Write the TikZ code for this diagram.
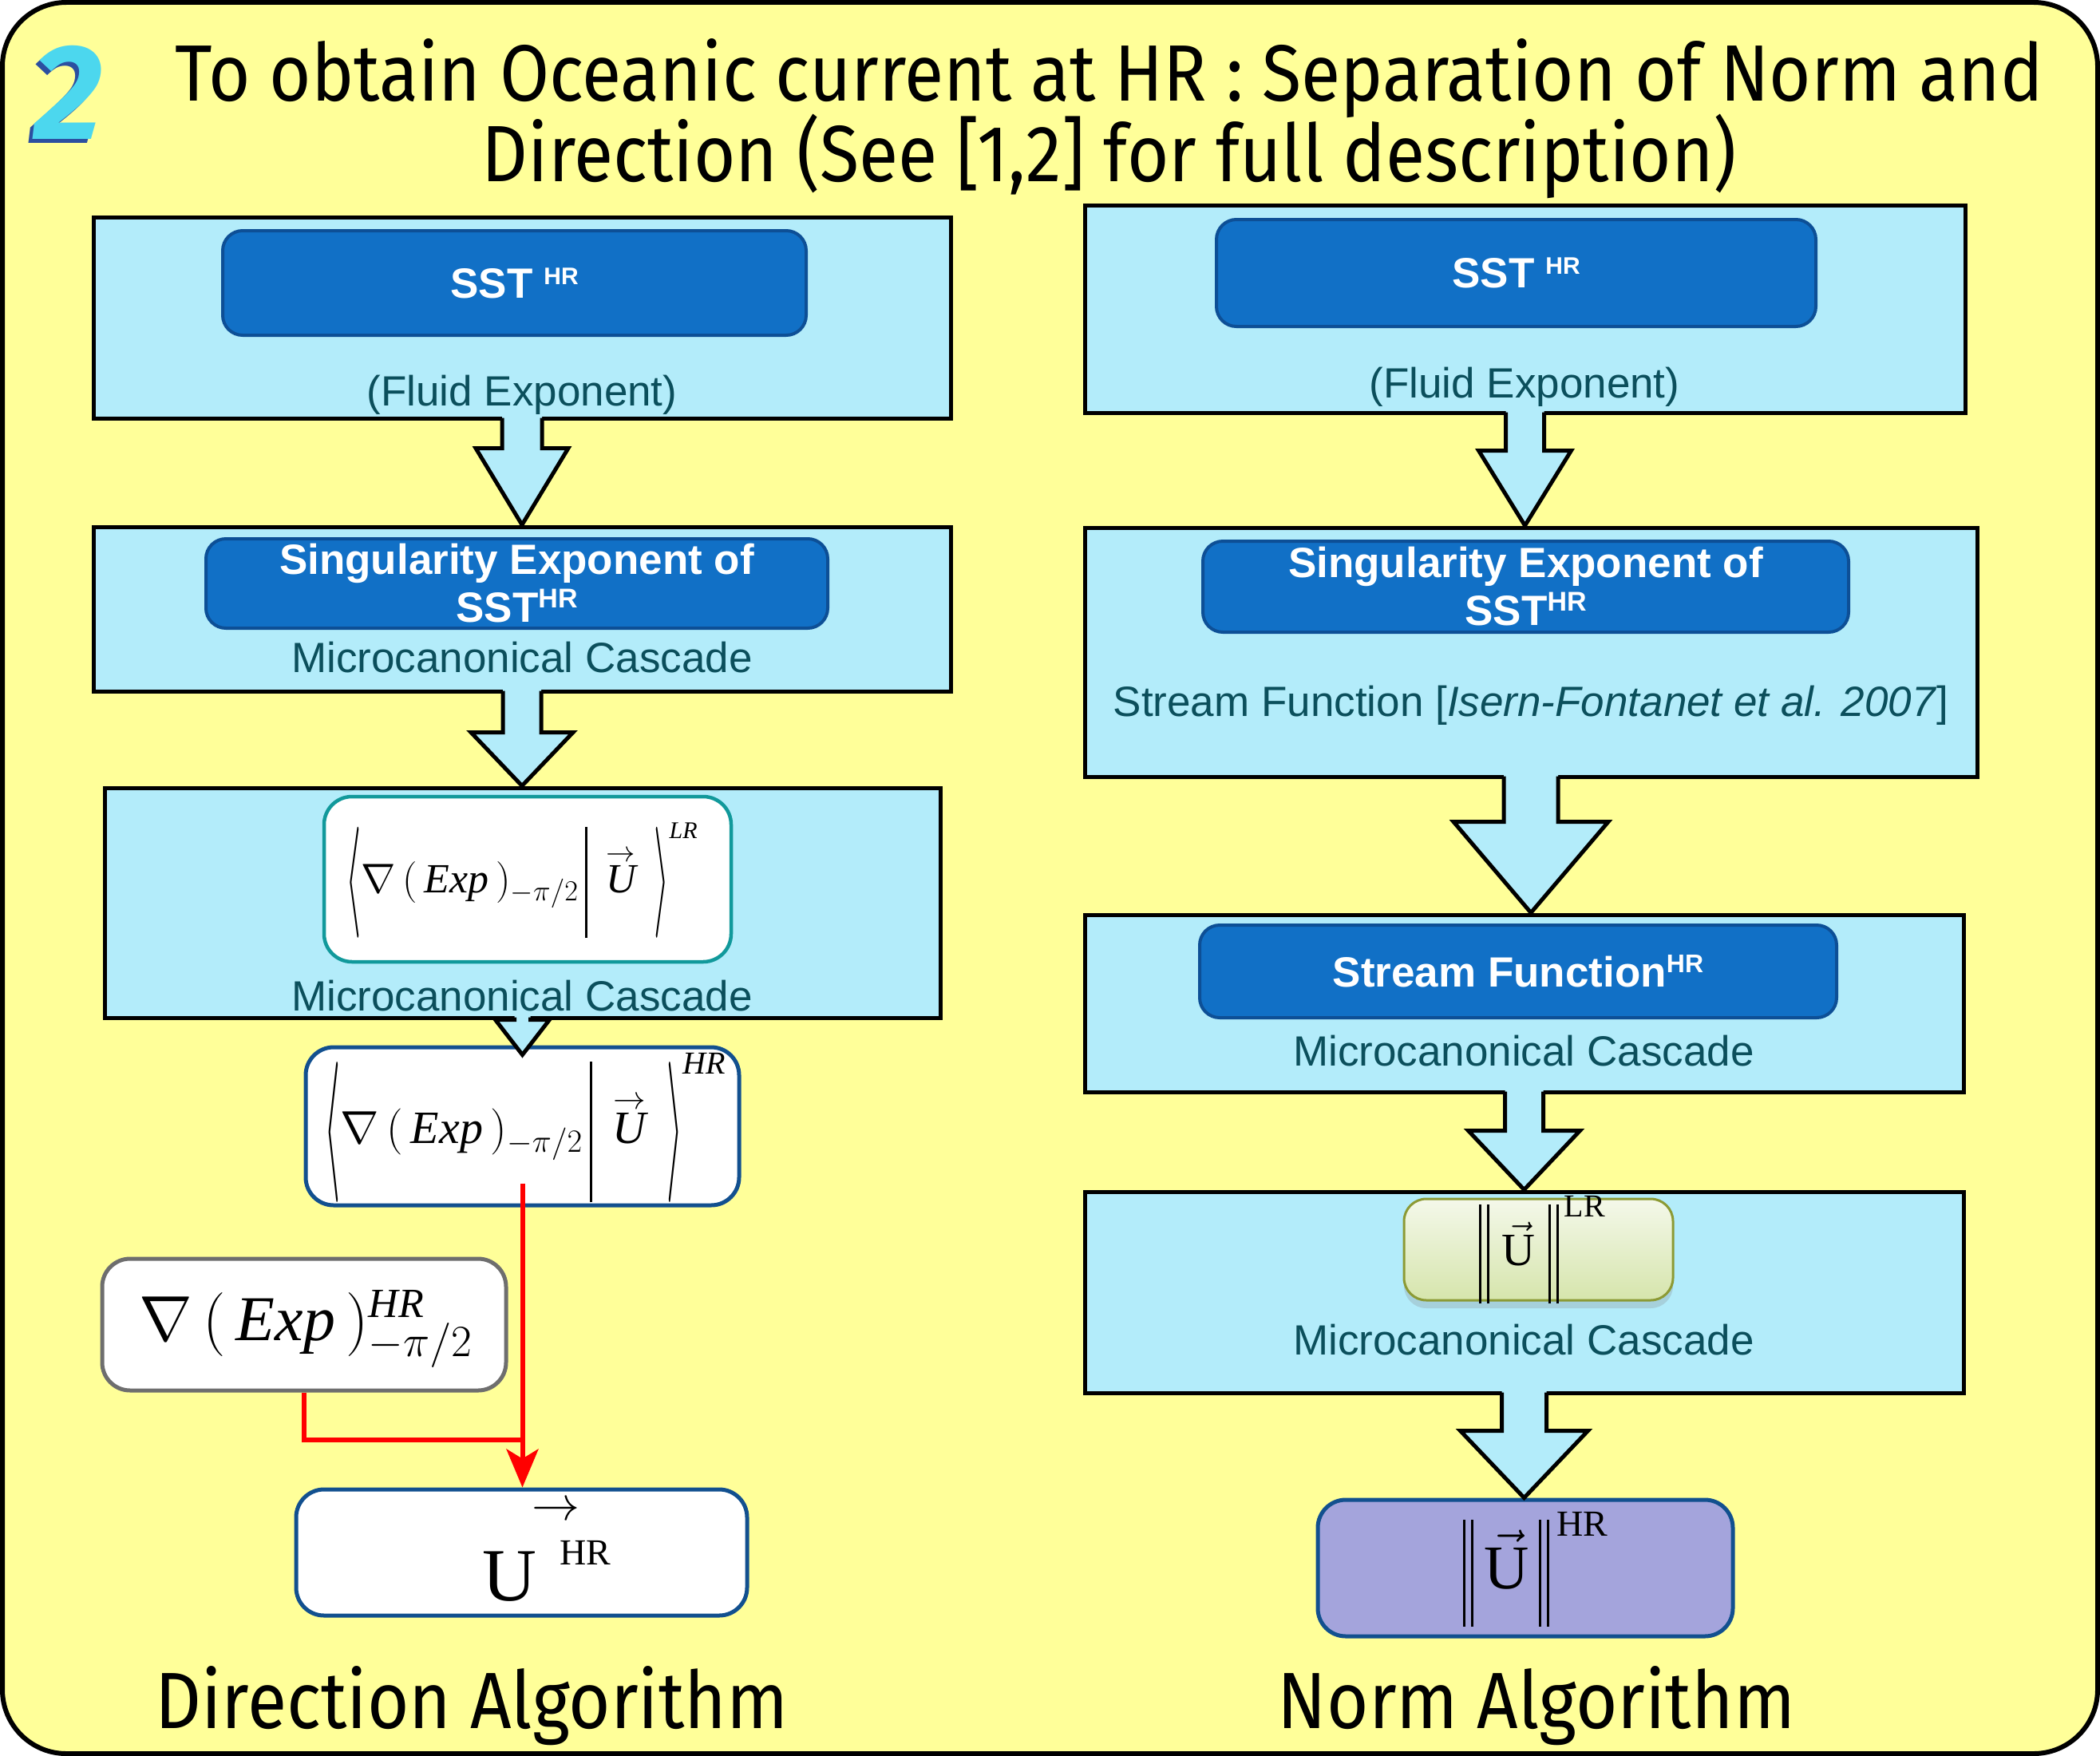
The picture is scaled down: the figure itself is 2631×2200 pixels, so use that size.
\RequirePackage{fix-cm}
\documentclass[tikz,border=0pt]{standalone}
\usepackage{exscale}
\usepackage{graphicx}
\usepackage[no-math]{fontspec}
\setmainfont{Liberation Sans}
\newfontfamily\titlefont[FakeStretch=0.9]{Fira Sans}
\newfontfamily\numfont{Fira Sans}
\newfontfamily\tnr{Liberation Serif}
\usetikzlibrary{calc,shadows,arrows.meta}
\definecolor{bgyellow}{HTML}{FFFF99}
\definecolor{boxcyan}{HTML}{B3ECFA}
\definecolor{innerblue}{HTML}{1170C6}
\definecolor{innerborder}{HTML}{0D4F96}
\definecolor{tealtext}{HTML}{0B4F5C}
\definecolor{tealborder}{HTML}{11999B}
\definecolor{darkblueborder}{HTML}{12508F}
\definecolor{grayborder}{HTML}{6E6E6E}
\definecolor{purplefill}{HTML}{A4A4DC}
\definecolor{greenborder}{HTML}{8C9A34}
\definecolor{greentop}{HTML}{F4F8EA}
\definecolor{greenbot}{HTML}{D6E5AC}
\definecolor{numcyan}{HTML}{4CD7EE}
\definecolor{numblue}{HTML}{2C4FA0}
\newcommand\hrsup[2]{\raisebox{#2}{\fontsize{#1}{#1}\selectfont HR}}
\newcommand\tn[1]{\mbox{\tnr\itshape #1}}
\newcommand\tu[1]{\mbox{\tnr #1}}
% resized delimiter glyph, centred on the math axis
\newcommand\dlm[3]{\vcenter{\hbox{\resizebox*{#1}{#2}{$#3$}}}}
% thin vertical bar and double bar
\newcommand\vbar[1]{\vcenter{\hbox{\rule{2.6pt}{#1}}}}
\newcommand\dbar[1]{\vcenter{\hbox{\rule{3pt}{#1}\hspace{7pt}\rule{3pt}{#1}}}}
\newcommand\blkarrow[6]{%
 \fill[boxcyan] let \p1=(#1.south), \p2=(#2) in
   (\x1-#3pt,\y1+7pt) -- (\x1-#3pt,\y2+#5pt) -- (\x1-#4pt,\y2+#5pt) -- (\x1,\y2) -- (\x1+#4pt,\y2+#5pt) -- (\x1+#3pt,\y2+#5pt) -- (\x1+#3pt,\y1+7pt) -- cycle;
 \draw[line width=5pt, line join=miter] let \p1=(#1.south), \p2=(#2) in
   (\x1-#3pt,\y1+#6pt) -- (\x1-#3pt,\y2+#5pt) -- (\x1-#4pt,\y2+#5pt) -- (\x1,\y2) -- (\x1+#4pt,\y2+#5pt) -- (\x1+#3pt,\y2+#5pt) -- (\x1+#3pt,\y1+#6pt);
}
\tikzset{
 bigbox/.style={draw=black, fill=boxcyan, line width=5pt, inner sep=0pt},
 innerbox/.style={draw=innerborder, fill=innerblue, line width=4pt, rounded corners=25pt, text=white, font=\fontsize{53}{60}\selectfont\bfseries, align=center, inner sep=0pt},
 captext/.style={text=tealtext, font=\fontsize{53}{60}\selectfont, inner sep=0pt, anchor=base},
 whitebox/.style={fill=white, line width=5pt, rounded corners=35pt, inner sep=0pt},
 greenbox/.style={draw=greenborder, line width=3pt, rounded corners=28pt, top color=greentop, bottom color=greenbot, inner sep=0pt, drop shadow={shadow xshift=0pt, shadow yshift=-10pt, opacity=0.25}},
 purplebox/.style={draw=darkblueborder, fill=purplefill, line width=5pt, rounded corners=35pt, inner sep=0pt},
 formula/.style={inner sep=0pt},
 redline/.style={draw=red, line width=6pt, line join=miter},
 titletext/.style={font=\titlefont\fontsize{100}{101}\selectfont, inner sep=0pt, anchor=base},
}
\begin{document}
\begin{tikzpicture}[x=1pt,y=-1pt]
\useasboundingbox (0,0) rectangle (2631,2200);
\fill[white] (0,0) rectangle (2631,2200);
\draw[line width=6pt, fill=bgyellow, rounded corners=80pt] (3,3) rectangle (2628,2197);

% title
\node[text=numblue, font=\numfont\fontsize{170}{170}\selectfont\bfseries\itshape, inner sep=0pt] (numshadow) at (81,121) {2};
\node[text=numcyan, font=\numfont\fontsize{170}{170}\selectfont\bfseries\itshape, inner sep=0pt] (num) at (86,116) {2};
\node[titletext] (title1) at (1390,126) {To obtain Oceanic current at HR : Separation of Norm and};
\node[titletext] (title2) at (1390,227) {Direction (See [1,2] for full description)};

% big boxes
\node[bigbox, minimum width=1074pt, minimum height=252pt] (L1) at (654,398) {};
\node[bigbox, minimum width=1074pt, minimum height=206pt] (L2) at (654,763) {};
\node[bigbox, minimum width=1047pt, minimum height=288pt] (L3) at (654.5,1131) {};
\node[bigbox, minimum width=1103pt, minimum height=260pt] (R1) at (1910.5,387) {};
\node[bigbox, minimum width=1118pt, minimum height=312pt] (R2) at (1918,817) {};
\node[bigbox, minimum width=1101pt, minimum height=222pt] (R3) at (1909.5,1257) {};
\node[bigbox, minimum width=1101pt, minimum height=252pt] (R4) at (1909.5,1619) {};

% white boxes left
\node[whitebox, draw=darkblueborder, minimum width=543pt, minimum height=198pt] (L4) at (654.5,1411) {};
\node[formula] (L4f) at (658,1413) {\fontsize{58}{58}\selectfont$\dlm{20pt}{176pt}{\langle}\nabla\,(\,\tn{Exp}\,)_{-\pi/2}\,\vbar{176pt}\,\stackrel{\rightarrow}{\tn{U}}\,\dlm{20pt}{176pt}{\rangle}^{\tn{\fontsize{40}{40}\selectfont HR}}$};
\node[whitebox, draw=grayborder, minimum width=506pt, minimum height=165pt] (L5) at (381,1659.5) {};
\node[formula] (L5f) at (383,1665) {\fontsize{80}{80}\selectfont$\nabla\,(\,\tn{Exp}\,)^{\tn{\fontsize{52}{52}\selectfont HR}}_{-\pi/2}$};
\node[whitebox, draw=darkblueborder, minimum width=565pt, minimum height=158pt] (L6) at (653.5,1945) {};
\node[formula] (L6u) at (638,1975) {\tnr\fontsize{94}{94}\selectfont U};
\node[formula] (L6hr) at (733,1945) {\tnr\fontsize{46}{46}\selectfont HR};
\node[formula] (L6arr) at (696,1893) {\fontsize{60}{60}\selectfont$\rightarrow$};

% block arrows
\blkarrow{L1}{L2.north}{25}{58}{96}{3}
\blkarrow{L2}{L3.north}{24}{64}{67}{3}
\blkarrow{L3}{[yshift=-12pt]L4.north}{10}{34}{44}{3}
\blkarrow{R1}{R2.north}{24}{58}{94}{3}
\blkarrow{R2}{R3.north}{34}{97}{114}{3}
\blkarrow{R3}{R4.north}{24}{70}{74}{3}

% inner boxes and captions left
\node[innerbox, minimum width=731pt, minimum height=131pt] (L1i) at (644.5,354.5) {SST\hspace{14pt}\hrsup{30}{17pt}};
\node[captext] (L1c) at (654,508) {(Fluid Exponent)};
\node[innerbox, minimum width=779pt, minimum height=112pt] (L2i) at (647.5,731) {Singularity Exponent of\\SST\hrsup{34}{18pt}};
\node[captext] (L2c) at (654,842) {Microcanonical Cascade};
\node[whitebox, draw=tealborder, line width=4.5pt, minimum width=510pt, minimum height=207pt] (L3i) at (661,1101.5) {};
\node[formula] (L3f) at (654,1103) {\fontsize{52}{52}\selectfont$\dlm{19pt}{139pt}{\langle}\nabla\,(\,\tn{Exp}\,)_{-\pi/2}\,\vbar{139pt}\,\stackrel{\rightarrow}{\tn{U}}\,\dlm{19pt}{139pt}{\rangle}^{\tn{\fontsize{30}{30}\selectfont LR}}$};
\node[captext] (L3c) at (654,1266) {Microcanonical Cascade};

% inner boxes and captions right
\node[innerbox, minimum width=751pt, minimum height=134pt] (R1i) at (1899.5,342) {SST\hspace{14pt}\hrsup{30}{17pt}};
\node[captext] (R1c) at (1910,498) {(Fluid Exponent)};
\node[innerbox, minimum width=809pt, minimum height=114pt] (R2i) at (1911.5,735) {Singularity Exponent of\\SST\hrsup{34}{18pt}};
\node[captext] (R2c) at (1918,897) {Stream Function [\textit{Isern-Fontanet et al. 2007}]};
\node[innerbox, minimum width=798pt, minimum height=116pt] (R3i) at (1902,1217) {Stream Function\hrsup{32}{18pt}};
\node[captext] (R3c) at (1909,1335) {Microcanonical Cascade};
\node[greenbox, minimum width=337pt, minimum height=127pt] (R4i) at (1927.5,1565.5) {};
\node[formula] (R4f) at (1932,1566) {\fontsize{58}{58}\selectfont$\dbar{124pt}\;\vec{\tu{U}}\;\dbar{124pt}^{\,\tu{\fontsize{40}{40}\selectfont LR}}$};
\node[captext] (R4c) at (1909,1697) {Microcanonical Cascade};
\node[purplebox, minimum width=520pt, minimum height=171pt] (R5) at (1911,1964.5) {};
\node[formula] (R5f) at (1924,1966) {\fontsize{78}{78}\selectfont$\dbar{134pt}\,\vec{\tu{U}}\,\dbar{134pt}^{\,\tu{\fontsize{46}{46}\selectfont HR}}$};
\blkarrow{R4}{R5.north}{28}{80}{84}{3}

% red connectors
\coordinate (J) at (654.5,1804);
\draw[redline] (L5.south) |- (J);
\draw[redline, -{Stealth[length=48pt,width=40pt,inset=12pt]}] ([yshift=30pt]L4.south) -- (L4.south |- L6.north);

% bottom labels
\node[titletext] (dirlab) at (591,2165) {Direction Algorithm};
\node[titletext] (normlab) at (1925,2165) {Norm Algorithm};
\end{tikzpicture}
\end{document}
